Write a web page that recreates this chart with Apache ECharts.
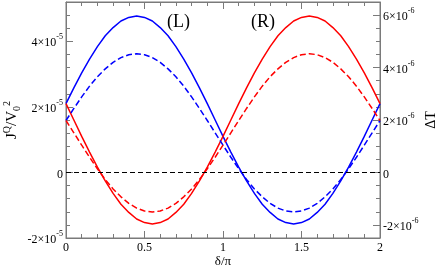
<!DOCTYPE html>
<html><head><meta charset="utf-8">
<script src="https://cdn.jsdelivr.net/npm/echarts@6/dist/echarts.min.js"></script>
<style>html,body{margin:0;padding:0;background:#fff}#c{width:436px;height:266px}</style>
</head><body><div id="c"></div>
<script>
// delta / pi
const delta = [0,0.05,0.1,0.15,0.2,0.25,0.3,0.35,0.4,0.45,0.5,0.55,0.6,0.65,0.7,0.75,0.8,0.85,0.9,0.95,1,1.05,1.1,1.15,1.2,1.25,1.3,1.35,1.4,1.45,1.5,1.55,1.6,1.65,1.7,1.75,1.8,1.85,1.9,1.95,2];
// J^Q / V0^2 (left axis), solid lines
const jqL = [2.10e-5,2.58e-5,3.04e-5,3.46e-5,3.84e-5,4.17e-5,4.42e-5,4.62e-5,4.73e-5,4.77e-5,4.73e-5,4.62e-5,4.42e-5,4.17e-5,3.84e-5,3.46e-5,3.04e-5,2.58e-5,2.10e-5,1.60e-5,1.10e-5,0.62e-5,0.16e-5,-0.26e-5,-0.64e-5,-0.97e-5,-1.22e-5,-1.42e-5,-1.53e-5,-1.57e-5,-1.53e-5,-1.42e-5,-1.22e-5,-0.97e-5,-0.64e-5,-0.26e-5,0.16e-5,0.62e-5,1.10e-5,1.60e-5,2.10e-5];
const jqR = [2.10e-5,1.60e-5,1.10e-5,0.62e-5,0.16e-5,-0.26e-5,-0.64e-5,-0.97e-5,-1.22e-5,-1.42e-5,-1.53e-5,-1.57e-5,-1.53e-5,-1.42e-5,-1.22e-5,-0.97e-5,-0.64e-5,-0.26e-5,0.16e-5,0.62e-5,1.10e-5,1.60e-5,2.10e-5,2.58e-5,3.04e-5,3.46e-5,3.84e-5,4.17e-5,4.42e-5,4.62e-5,4.73e-5,4.77e-5,4.73e-5,4.62e-5,4.42e-5,4.17e-5,3.84e-5,3.46e-5,3.04e-5,2.58e-5,2.10e-5];
// Delta T (right axis), dashed lines
const dtL = [1.98e-6,2.44e-6,2.88e-6,3.29e-6,3.65e-6,3.95e-6,4.20e-6,4.38e-6,4.49e-6,4.53e-6,4.49e-6,4.38e-6,4.20e-6,3.95e-6,3.65e-6,3.29e-6,2.88e-6,2.44e-6,1.98e-6,1.51e-6,1.04e-6,0.58e-6,0.14e-6,-0.27e-6,-0.63e-6,-0.93e-6,-1.18e-6,-1.36e-6,-1.47e-6,-1.51e-6,-1.47e-6,-1.36e-6,-1.18e-6,-0.93e-6,-0.63e-6,-0.27e-6,0.14e-6,0.58e-6,1.04e-6,1.51e-6,1.98e-6];
const dtR = [1.98e-6,1.51e-6,1.04e-6,0.58e-6,0.14e-6,-0.27e-6,-0.63e-6,-0.93e-6,-1.18e-6,-1.36e-6,-1.47e-6,-1.51e-6,-1.47e-6,-1.36e-6,-1.18e-6,-0.93e-6,-0.63e-6,-0.27e-6,0.14e-6,0.58e-6,1.04e-6,1.51e-6,1.98e-6,2.44e-6,2.88e-6,3.29e-6,3.65e-6,3.95e-6,4.20e-6,4.38e-6,4.49e-6,4.53e-6,4.49e-6,4.38e-6,4.20e-6,3.95e-6,3.65e-6,3.29e-6,2.88e-6,2.44e-6,1.98e-6];
const leftTicks = [-2e-5,0,2e-5,4e-5];
const rightTicks = [-2e-6,0,2e-6,4e-6,6e-6];
const panelLabels = ['(L)','(R)'];

const FONT = 'Liberation Serif';
const GRAY = '#7a7a7a';
function expLabel(v, exp){
  if (Math.abs(v) < 1e-12) return '{b|0}';
  const m = Math.round(v / Math.pow(10, exp));
  return '{b|' + (m < 0 ? '-' : '') + Math.abs(m) + '×10}{s|' + exp + '}';
}
const labRich = {
  b: {fontFamily: FONT, fontSize: 12, color: '#000', lineHeight: 16, verticalAlign: 'bottom'},
  s: {fontFamily: FONT, fontSize: 8, color: '#000', lineHeight: 16, verticalAlign: 'top'}
};
const pairs = arr => delta.map((d, i) => [d, arr[i]]);

const chart = echarts.init(document.getElementById('c'), null, {renderer: 'canvas'});
const tickStyle = {color: GRAY, width: 1};
chart.setOption({
  animation: false,
  grid: {left: 66, right: 56, top: 2, bottom: 28, show: true, borderColor: GRAY, borderWidth: 1,
         containLabel: false, outerBoundsMode: 'none'},
  xAxis: [
    {type: 'value', min: 0, max: 2, interval: 0.5, position: 'bottom',
     axisLine: {onZero: false, lineStyle: {color: GRAY}},
     axisTick: {inside: true, length: 7, lineStyle: tickStyle},
     minorTick: {show: true, splitNumber: 5, length: 4, lineStyle: tickStyle},
     splitLine: {show: false},
     axisLabel: {color: '#000', fontFamily: FONT, fontSize: 12, margin: 4},
     name: 'δ/π', nameLocation: 'middle', nameGap: 17, nameMoveOverlap: false,
     nameTextStyle: {color: '#000', fontFamily: FONT, fontSize: 13}},
    {type: 'value', min: 0, max: 2, interval: 0.5, position: 'top',
     axisLine: {onZero: false, lineStyle: {color: GRAY}},
     axisTick: {inside: true, length: 7, lineStyle: tickStyle},
     minorTick: {show: true, splitNumber: 5, length: 4, lineStyle: tickStyle},
     splitLine: {show: false}, axisLabel: {show: false}}
  ],
  yAxis: [
    {type: 'value', min: -2e-5, max: 5.2e-5, interval: 2e-5, position: 'left',
     axisLine: {show: true, onZero: false, lineStyle: {color: GRAY}},
     axisTick: {inside: true, length: 7, lineStyle: tickStyle},
     splitLine: {show: false},
     axisLabel: {showMaxLabel: false, margin: 3, formatter: v => expLabel(v, -5), rich: labRich},
     name: '{j|J}{sp|Q}{j|/V}{sb|0}{sp|2}', nameLocation: 'middle', nameRotate: 90, nameGap: 44,
     nameMoveOverlap: false,
     nameTextStyle: {rich: {
       j: {fontFamily: FONT, fontSize: 15, color: '#000', lineHeight: 20, verticalAlign: 'middle'},
       sp: {fontFamily: FONT, fontSize: 10, color: '#000', lineHeight: 20, verticalAlign: 'top'},
       sb: {fontFamily: FONT, fontSize: 10, color: '#000', lineHeight: 20, verticalAlign: 'bottom'}
     }}},
    {type: 'value', min: -2.5e-6, max: 6.5e-6, position: 'right',
     axisLine: {show: true, onZero: false, lineStyle: {color: GRAY}},
     axisTick: {inside: true, length: 7, lineStyle: tickStyle, customValues: rightTicks},
     splitLine: {show: false},
     axisLabel: {margin: 3, customValues: rightTicks, formatter: v => expLabel(v, -6), rich: labRich},
     name: 'ΔT', nameLocation: 'middle', nameRotate: 90, nameGap: 44, nameMoveOverlap: false,
     nameTextStyle: {color: '#000', fontFamily: FONT, fontSize: 14}},
    {type: 'value', min: -2e-5, max: 5.2e-5, interval: 0.4e-5, position: 'left',
     axisLine: {show: false, onZero: false}, axisLabel: {show: false}, splitLine: {show: false},
     axisTick: {show: true, inside: true, length: 4, lineStyle: tickStyle}},
    {type: 'value', min: -2.5e-6, max: 6.5e-6, interval: 0.5e-6, position: 'right',
     axisLine: {show: false, onZero: false}, axisLabel: {show: false}, splitLine: {show: false},
     axisTick: {show: true, inside: true, length: 4, lineStyle: tickStyle}}
  ],
  graphic: [
    {type: 'text', left: 167, top: 13, style: {text: panelLabels[0], font: '18px "Liberation Serif"', fill: '#000'}},
    {type: 'text', left: 251, top: 13, style: {text: panelLabels[1], font: '18px "Liberation Serif"', fill: '#000'}}
  ],
  series: [
    {type: 'line', name: 'JQ L', xAxisIndex: 0, yAxisIndex: 0, data: pairs(jqL), showSymbol: false,
     lineStyle: {color: '#0000ff', width: 1.5}, itemStyle: {color: '#0000ff'}, z: 3,
     markLine: {silent: true, symbol: 'none', label: {show: false},
       lineStyle: {color: '#000', width: 1, type: [5, 3]}, data: [{yAxis: 0}]}},
    {type: 'line', name: 'JQ R', xAxisIndex: 0, yAxisIndex: 0, data: pairs(jqR), showSymbol: false,
     lineStyle: {color: '#ff0000', width: 1.5}, itemStyle: {color: '#ff0000'}, z: 3},
    {type: 'line', name: 'dT L', xAxisIndex: 0, yAxisIndex: 1, data: pairs(dtL), showSymbol: false,
     lineStyle: {color: '#0000ff', width: 1.5, type: [6, 3]}, itemStyle: {color: '#0000ff'}, z: 3},
    {type: 'line', name: 'dT R', xAxisIndex: 0, yAxisIndex: 1, data: pairs(dtR), showSymbol: false,
     lineStyle: {color: '#ff0000', width: 1.5, type: [6, 3]}, itemStyle: {color: '#ff0000'}, z: 3}
  ]
});
</script></body></html>
